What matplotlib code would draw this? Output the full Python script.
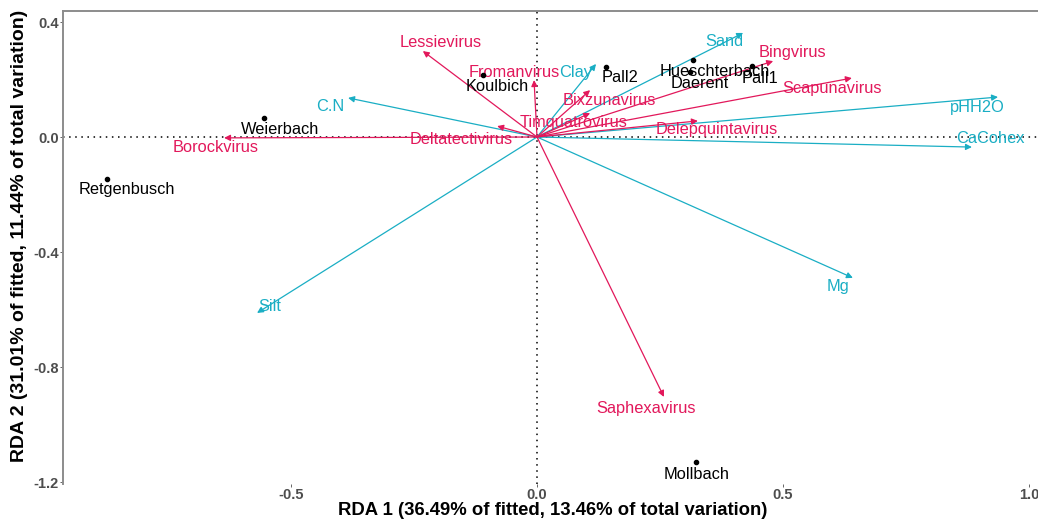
import matplotlib.pyplot as plt

plt.rcParams['font.family'] = ['Liberation Sans', 'DejaVu Sans']

# site scores
sites = ["Retgenbusch", "Weierbach", "Koulbich", "Pall2", "Hueschterbach", "Daerent", "Pall1", "Mollbach"]
site_x = [-0.874, -0.555, -0.110, 0.140, 0.317, 0.311, 0.437, 0.323]
site_y = [-0.146, 0.066, 0.216, 0.244, 0.268, 0.226, 0.247, -1.130]

# virus genera (response) arrows
genera = ["Lessievirus", "Fromanvirus", "Borockvirus", "Deltatectivirus", "Bixzunavirus",
          "Timquatrovirus", "Bingvirus", "Scapunavirus", "Delepquintavirus", "Saphexavirus"]
gen_x = [-0.232, -0.006, -0.636, -0.081, 0.108, 0.108, 0.480, 0.640, 0.327, 0.258]
gen_y = [0.299, 0.198, -0.003, 0.038, 0.163, 0.083, 0.264, 0.205, 0.056, -0.904]

# environmental variables
env = ["Sand", "Clay", "C.N", "pHH2O", "CaCohex", "Silt", "Mg"]
env_x = [0.419, 0.120, -0.384, 0.937, 0.884, -0.569, 0.642]
env_y = [0.362, 0.254, 0.136, 0.139, -0.035, -0.612, -0.490]

xticks = [-0.5, 0.0, 0.5, 1.0]
yticks = [0.4, 0.0, -0.4, -0.8, -1.2]

# label nudges in pixels (right, down)
site_off = [(20, 11), (16, 11), (14, 12), (14, 11), (22, 12), (10, 11), (8, 12), (1, 13)]
gen_off = [(18, -9), (-20, -8), (-8, 10), (-36, 13), (19, 10), (-17, 9), (19, -9), (-20, 10), (19, 9), (-18, 12)]
env_off = [(-19, 9), (-20, 9), (-18, 9), (-21, 10), (18, -9), (13, -6), (-15, 9)]

RED = "#E2185B"
CYAN = "#1AAEC4"

fig = plt.figure(figsize=(10.38, 5.19), dpi=100)
ax = fig.add_axes([0.0607, 0.0674, 0.9393, 0.9114])
ax.set_xlim(-0.9634, 1.0183)
ax.set_ylim(-1.207, 0.4383)

ax.axhline(0, color="black", ls=(0, (1, 3)), lw=1.1, zorder=1)
ax.axvline(0, color="black", ls=(0, (1, 3)), lw=1.1, zorder=1)

def arrows(xs, ys, names, offs, col):
    for x, y, n, (dx, dy) in zip(xs, ys, names, offs):
        ax.annotate("", xy=(x, y), xytext=(0, 0),
                    arrowprops=dict(arrowstyle="-|>", color=col, lw=0.9,
                                    mutation_scale=9, shrinkA=0, shrinkB=0))
        ax.annotate(n, xy=(x, y), xytext=(dx, -dy), textcoords="offset pixels",
                    ha="center", va="center", color=col, fontsize=11.8, zorder=5)

arrows(env_x, env_y, env, env_off, CYAN)
arrows(gen_x, gen_y, genera, gen_off, RED)

ax.scatter(site_x, site_y, s=9, color="black", zorder=6)
for x, y, n, (dx, dy) in zip(site_x, site_y, sites, site_off):
    ax.annotate(n, xy=(x, y), xytext=(dx, -dy), textcoords="offset pixels",
                ha="center", va="center", color="black", fontsize=11.8, zorder=6)

ax.set_xticks(xticks)
ax.set_yticks(yticks)
ax.set_xticklabels(["-0.5", "0.0", "0.5", "1.0"])
ax.set_yticklabels(["0.4", "0.0", "-0.4", "-0.8", "-1.2"])
ax.tick_params(labelsize=10.5, colors="#4D4D4D", length=2, width=0.6)
for lab in ax.get_xticklabels() + ax.get_yticklabels():
    lab.set_fontweight("bold")
ax.tick_params(axis="x", pad=1)
ax.tick_params(axis="y", pad=1)

for side in ["right", "bottom"]:
    ax.spines[side].set_visible(False)
for side in ["left", "top"]:
    ax.spines[side].set_color("#8C8C8C")
    ax.spines[side].set_linewidth(1.4)

ax.set_xlabel("RDA 1 (36.49% of fitted, 13.46% of total variation)",
              fontsize=13.3, fontweight="bold")
ax.set_ylabel("RDA 2 (31.01% of fitted, 11.44% of total variation)",
              fontsize=14, fontweight="bold")
ax.yaxis.set_label_coords(-0.036, 0.524)
ax.xaxis.set_label_coords(0.502, -0.038)

plt.savefig("out.png", dpi=100)
